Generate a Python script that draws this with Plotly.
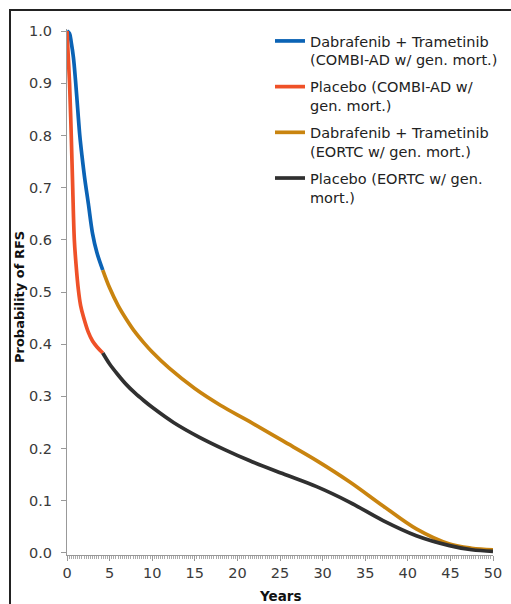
import plotly.graph_objects as go

# ---- data ----
dt_combi_years = [0, 0.3, 0.5, 0.75, 1.0, 1.25, 1.5, 1.75, 2.1, 2.5, 3.0, 3.5, 4.2]
dt_combi_rfs = [1.0, 0.995, 0.978, 0.95, 0.905, 0.852, 0.80, 0.762, 0.715, 0.67, 0.612, 0.576, 0.542]

pl_combi_years = [0, 0.15, 0.3, 0.5, 0.67, 0.86, 1.05, 1.33, 1.6, 1.92, 2.5, 3.0, 3.5, 4.2]
pl_combi_rfs = [1.0, 0.95, 0.9, 0.8, 0.7, 0.6, 0.555, 0.505, 0.474, 0.453, 0.423, 0.406, 0.395, 0.383]

dt_eortc_years = [4.2, 5.0, 6.0, 7.0, 8.0, 9.0, 10.0, 12.0, 15.0, 18.0, 21.4, 25.3, 29.3, 33.2, 37.1, 41.0, 44.9, 47.5, 50.0]
dt_eortc_rfs = [0.542, 0.508, 0.474, 0.447, 0.423, 0.403, 0.385, 0.354, 0.315, 0.283, 0.252, 0.215, 0.177, 0.136, 0.09, 0.046, 0.017, 0.009, 0.006]

pl_eortc_years = [4.2, 5.0, 6.0, 7.0, 8.0, 9.0, 10.0, 12.5, 15.5, 18.5, 21.4, 25.3, 29.3, 33.2, 37.1, 41.0, 44.9, 47.5, 50.0]
pl_eortc_rfs = [0.383, 0.362, 0.341, 0.322, 0.306, 0.292, 0.279, 0.25, 0.222, 0.198, 0.177, 0.152, 0.127, 0.097, 0.062, 0.033, 0.014, 0.006, 0.003]

series_names = [
    "Dabrafenib + Trametinib<br>(COMBI-AD w/ gen. mort.)",
    "Placebo (COMBI-AD w/<br>gen. mort.)",
    "Dabrafenib + Trametinib<br>(EORTC w/ gen. mort.)",
    "Placebo (EORTC w/ gen.<br>mort.)",
]
colors = ["#0b63b5", "#ef5128", "#c9840f", "#303030"]

x_ticks = [0, 5, 10, 15, 20, 25, 30, 35, 40, 45, 50]
y_ticks = [0.0, 0.1, 0.2, 0.3, 0.4, 0.5, 0.6, 0.7, 0.8, 0.9, 1.0]

xs = [dt_combi_years, pl_combi_years, dt_eortc_years, pl_eortc_years]
ys = [dt_combi_rfs, pl_combi_rfs, dt_eortc_rfs, pl_eortc_rfs]

fig = go.Figure()
for i in range(4):
    fig.add_trace(go.Scatter(
        x=xs[i], y=ys[i], mode="lines", name=series_names[i],
        line=dict(color=colors[i], width=3.7, shape="spline", smoothing=1.0),
        legendgroup=f"g{i}",
    ))

W, H = 511, 604
L, R, T, B = 67, 18, 29, 49

def px_x(p):
    return (p - L) / (W - L - R)

def px_y(p):
    return 1 - (p - T) / (H - T - B)

axis_font = dict(family="DejaVu Sans, Arial, sans-serif", size=14.5, color="#3a3a3a")

fig.update_layout(
    width=W, height=H,
    margin=dict(l=L, r=R, t=T, b=B, autoexpand=False),
    paper_bgcolor="white", plot_bgcolor="white",
    font=dict(family="DejaVu Sans, Arial, sans-serif", color="#222"),
    showlegend=True,
    legend=dict(
        x=px_x(270), y=px_y(25), xanchor="left", yanchor="top",
        font=dict(family="DejaVu Sans, Arial, sans-serif", size=14.5, color="#222"),
        valign="top", tracegroupgap=5, bgcolor="rgba(0,0,0,0)",
    ),
    xaxis=dict(
        range=[0, 50], tickvals=x_ticks, ticktext=[str(v) for v in x_ticks],
        showgrid=False, zeroline=False, showline=True, linecolor="#999", linewidth=1,
        ticks="outside", ticklen=5, tickcolor="#999", tickfont=axis_font,
        minor=dict(dtick=0.25, ticks="outside", ticklen=3, tickcolor="#aaa"),
    ),
    yaxis=dict(
        range=[-0.004, 1.004], tickvals=y_ticks, ticktext=[f"{v:.1f}" for v in y_ticks],
        showgrid=False, zeroline=False, showline=True, linecolor="#999", linewidth=1,
        ticks="outside", ticklen=5, tickcolor="#999", tickfont=axis_font,
        ticklabelstandoff=6,
    ),
    annotations=[
        dict(text="<b>Probability of RFS</b>", textangle=-90, xref="paper", yref="paper",
             x=px_x(19), y=px_y(297), xanchor="center", yanchor="middle", showarrow=False,
             font=dict(family="DejaVu Sans, Arial, sans-serif", size=13, color="#111")),
        dict(text="<b>Years</b>", xref="paper", yref="paper",
             x=px_x(280), y=px_y(596), xanchor="center", yanchor="middle", showarrow=False,
             font=dict(family="DejaVu Sans, Arial, sans-serif", size=13.5, color="#111")),
    ],
    shapes=[
        dict(type="rect", xref="paper", yref="paper",
             x0=px_x(10), x1=px_x(530), y0=px_y(640), y1=px_y(10),
             line=dict(color="#222", width=2), fillcolor="rgba(0,0,0,0)", layer="above"),
    ],
)

fig.write_html(
    "out.html",
    config={"displayModeBar": False},
    post_script="document.body.style.margin='0';document.body.style.overflow='hidden';",
)
